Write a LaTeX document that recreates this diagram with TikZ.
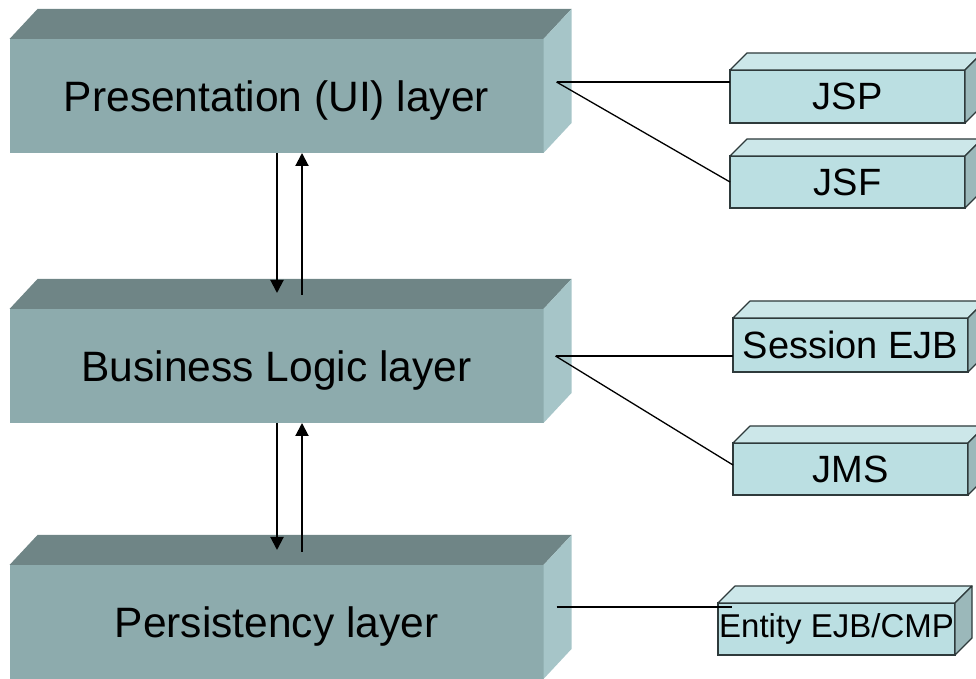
\documentclass[tikz,border=0pt]{standalone}
\usepackage{fontspec}
\setmainfont{Liberation Sans}
\usetikzlibrary{calc,arrows.meta}

\definecolor{layerfront}{HTML}{8DABAD}
\definecolor{layertop}{HTML}{6F8586}
\definecolor{layerside}{HTML}{A6C5C8}
\definecolor{techfront}{HTML}{BBDFE2}
\definecolor{techtop}{HTML}{CCE7E9}
\definecolor{techside}{HTML}{9BB8BA}
\definecolor{techedge}{HTML}{2E3A3B}

\tikzset{
  layer/.style={rectangle, fill=layerfront, minimum width=534pt, minimum height=114pt,
    inner sep=0pt, outer sep=0pt, font=\fontsize{42.5}{50}\selectfont,
    text height=30.5pt, text depth=0pt},
  tech/.style={rectangle, draw=techedge, line width=1.2pt, fill=techfront,
    minimum width=235pt, minimum height=53pt, inner sep=0pt, outer sep=0pt,
    font=\fontsize{38}{44}\selectfont},
  flow/.style={line width=2pt, -{Triangle[width=13pt,length=13pt]}},
  link/.style={line width=1.3pt},
}

% top and right faces of a box whose front face is node #1; depth vector #2
\newcommand\prismfaces[5]{%
  \path[#5, fill=#3] (#1.north west) -- (#1.north east) -- ++(#2)
    -- ($(#1.north west)+(#2)$) -- cycle;
  \path[#5, fill=#4] (#1.north east) -- ++(#2)
    -- ($(#1.south east)+(#2)$) -- (#1.south east) -- cycle;}

\begin{document}
\begin{tikzpicture}[x=1pt, y=1pt]
\useasboundingbox (0,0) rectangle (976,679);

% layers
\node[layer] (pres) at (276.5,583) {Presentation (UI) layer};
\node[layer] (biz)  at (276.5,313) {Business Logic layer};
\node[layer] (pers) at (276.5,57)  {Persistency layer};
\prismfaces{pres}{28,30}{layertop}{layerside}{}
\prismfaces{biz}{28,30}{layertop}{layerside}{}
\prismfaces{pers}{28,30}{layertop}{layerside}{}

% technologies
\node[tech] (jsp)  at (847.5,582.5) {JSP};
\node[tech, minimum height=52pt] (jsf)  at (847.5,497) {JSF};
\node[tech, minimum height=54pt] (sess) at (850.5,334) {Session EJB};
\node[tech, minimum height=52pt] (jms)  at (850.5,210) {JMS};
\node[tech, minimum width=237pt, minimum height=52pt,
      font=\fontsize{33}{40}\selectfont] (ent) at (836.5,50) {Entity EJB/CMP};
\foreach \n in {jsp,jsf,sess,jms,ent}{%
  \prismfaces{\n}{17,17}{techtop}{techside}{draw=techedge, line width=1.2pt, line join=round}}

% calls between layers
\draw[flow] ([xshift=0.5pt]pres.south) -- ([xshift=0.5pt,yshift=16pt]biz.north);
\draw[flow] ([xshift=25.5pt,yshift=14pt]biz.north) -- ([xshift=25.5pt]pres.south);
\draw[flow] ([xshift=0.5pt]biz.south) -- ([xshift=0.5pt,yshift=15pt]pers.north);
\draw[flow] ([xshift=25.5pt,yshift=13pt]pers.north) -- ([xshift=25.5pt]biz.south);

% links to technologies
\coordinate (pres-out) at ($(pres.east)+(13,14)$);
\coordinate (biz-out)  at ($(biz.east)+(12,10)$);
\coordinate (pers-out) at ($(pers.east)+(13,15)$);
\draw[link] (pres-out) -- (pres-out -| jsp.west);
\draw[link] (pres-out) -- (jsf.west);
\draw[link] (biz-out) -- (biz-out -| sess.west);
\draw[link] (biz-out) -- ([yshift=4pt]jms.west);
\draw[link] (pers-out) -- ([xshift=14pt]pers-out -| ent.west);
\end{tikzpicture}
\end{document}
